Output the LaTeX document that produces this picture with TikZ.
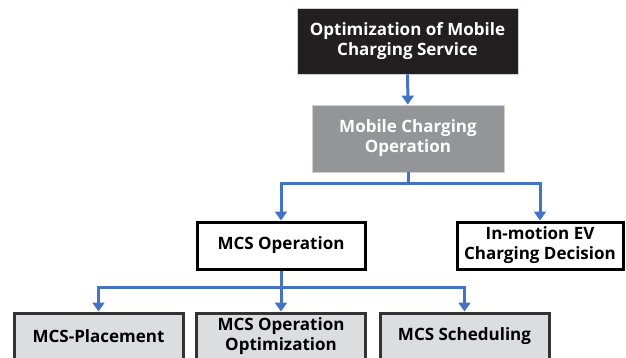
\documentclass[tikz,border=0pt]{standalone}
\usepackage{fontspec}
\setmainfont{Open Sans}
\usetikzlibrary{arrows.meta}
\definecolor{flowblue}{HTML}{4472C4}
\definecolor{darkfill}{HTML}{231F20}
\definecolor{midfill}{HTML}{939598}
\definecolor{lightfill}{HTML}{DCDDDF}
\definecolor{edgegray}{HTML}{D0D0D0}
\tikzset{
  box/.style={align=center, inner sep=0pt, font=\bfseries\fontsize{17}{20}\selectfont},
  headbox/.style={box, fill=darkfill, draw=edgegray, line width=0.8pt, text=white},
  midbox/.style={box, fill=midfill, draw=edgegray, line width=0.8pt, text=white},
  opbox/.style={box, fill=white, draw=black, line width=3pt, minimum height=47pt},
  leafbox/.style={box, fill=lightfill, draw=black!80, line width=3pt, minimum width=169pt, minimum height=46pt},
  flow/.style={draw=flowblue, line width=3pt, -{Triangle[length=9pt,width=12pt]}}
}
\begin{document}
\begin{tikzpicture}[x=1pt,y=-1pt]
			\clip (0,0) rectangle (626,358);
			% top levels
			\node[headbox, minimum width=221pt, minimum height=66pt] (service) at (407.5,41) {Optimization of Mobile\\Charging Service};
			\node[midbox, minimum width=192pt, minimum height=67pt] (mobileop) at (408,138.5) {Mobile Charging\\Operation};
			% second level
			\node[opbox, minimum width=168pt] (mcsop) at (281,245.5) {MCS Operation};
			\node[opbox, minimum width=166pt] (inmotion) at (540,245.5) {In-motion EV\\Charging Decision};
			% leaves
			\node[leafbox] (placement) at (98.5,336) {MCS-Placement};
			\node[leafbox] (optim) at (281,336) {MCS Operation\\Optimization};
			\node[leafbox] (sched) at (464.5,336) {MCS Scheduling};
			% buses
			\coordinate (busa) at (0,184);
			\coordinate (busb) at (0,287);
			% connectors
			\draw[flow] (service) -- (mobileop);
			\draw[flow] (mobileop.south) -- (mobileop.south |- busa) -| (mcsop.north);
			\draw[flow] (mobileop.south) -- (mobileop.south |- busa) -| (inmotion.north);
			\draw[flow] (mcsop.south) -- (mcsop.south |- busb) -| (placement.north);
			\draw[flow] (mcsop.south) -- (optim.north);
			\draw[flow] (mcsop.south) -- (mcsop.south |- busb) -| (sched.north);
\end{tikzpicture}
\end{document}
